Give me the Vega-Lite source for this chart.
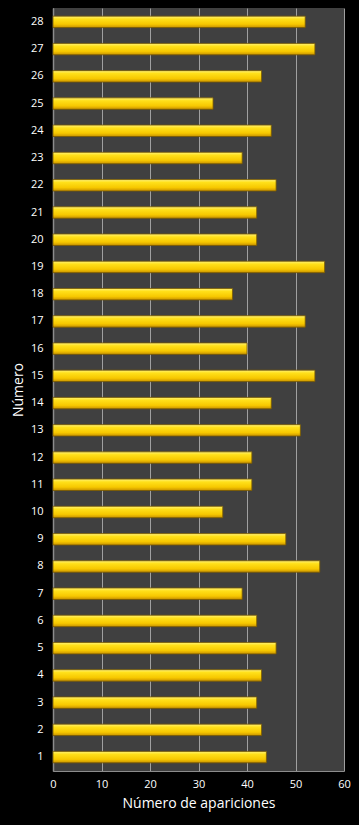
{
  "$schema": "https://vega.github.io/schema/vega-lite/v6.json",
  "width": 291,
  "height": 763,
  "autosize": {"type": "none"},
  "padding": {"left": 53, "top": 8, "right": 15, "bottom": 54},
  "background": "#000000",
  "config": {
    "view": {"fill": "#404040", "stroke": null},
    "font": "Open Sans"
  },
  "data": {
    "values": [
      {"numero": "1", "apariciones": 44},
      {"numero": "2", "apariciones": 43},
      {"numero": "3", "apariciones": 42},
      {"numero": "4", "apariciones": 43},
      {"numero": "5", "apariciones": 46},
      {"numero": "6", "apariciones": 42},
      {"numero": "7", "apariciones": 39},
      {"numero": "8", "apariciones": 55},
      {"numero": "9", "apariciones": 48},
      {"numero": "10", "apariciones": 35},
      {"numero": "11", "apariciones": 41},
      {"numero": "12", "apariciones": 41},
      {"numero": "13", "apariciones": 51},
      {"numero": "14", "apariciones": 45},
      {"numero": "15", "apariciones": 54},
      {"numero": "16", "apariciones": 40},
      {"numero": "17", "apariciones": 52},
      {"numero": "18", "apariciones": 37},
      {"numero": "19", "apariciones": 56},
      {"numero": "20", "apariciones": 42},
      {"numero": "21", "apariciones": 42},
      {"numero": "22", "apariciones": 46},
      {"numero": "23", "apariciones": 39},
      {"numero": "24", "apariciones": 45},
      {"numero": "25", "apariciones": 33},
      {"numero": "26", "apariciones": 43},
      {"numero": "27", "apariciones": 54},
      {"numero": "28", "apariciones": 52}
    ]
  },
  "mark": {
    "type": "bar",
    "color": {
      "gradient": "linear",
      "x1": 0, "y1": 0, "x2": 0, "y2": 1,
      "stops": [
        {"offset": 0, "color": "#fff27a"},
        {"offset": 0.25, "color": "#ffe01a"},
        {"offset": 0.7, "color": "#f7c800"},
        {"offset": 1, "color": "#c89200"}
      ]
    },
    "stroke": "#7a5a00",
    "strokeWidth": 0.8
  },
  "encoding": {
    "y": {
      "field": "numero",
      "type": "ordinal",
      "scale": {
        "domain": ["28","27","26","25","24","23","22","21","20","19","18","17","16","15","14","13","12","11","10","9","8","7","6","5","4","3","2","1"],
        "paddingInner": 0.58,
        "paddingOuter": 0.3
      },
      "axis": {
        "title": "Número",
        "titleColor": "#ffffff",
        "titleFontSize": 14,
        "titleFontWeight": "normal",
        "titlePadding": 5,
        "labelColor": "#ffffff",
        "labelFontSize": 11,
        "labelPadding": 10,
        "ticks": false,
        "domainColor": "#8c8c8c",
        "domainWidth": 1.5
      }
    },
    "x": {
      "field": "apariciones",
      "type": "quantitative",
      "scale": {"domain": [0, 60], "nice": false},
      "axis": {
        "title": "Número de apariciones",
        "values": [0, 10, 20, 30, 40, 50, 60],
        "labelFlush": false,
        "titleColor": "#ffffff",
        "titleFontSize": 14,
        "titleFontWeight": "normal",
        "titlePadding": 7,
        "labelColor": "#ffffff",
        "labelFontSize": 11,
        "labelPadding": 7,
        "ticks": false,
        "grid": true,
        "gridColor": "#a0a0a0",
        "gridWidth": 1,
        "domainColor": "#8c8c8c",
        "domainWidth": 1
      }
    }
  }
}
